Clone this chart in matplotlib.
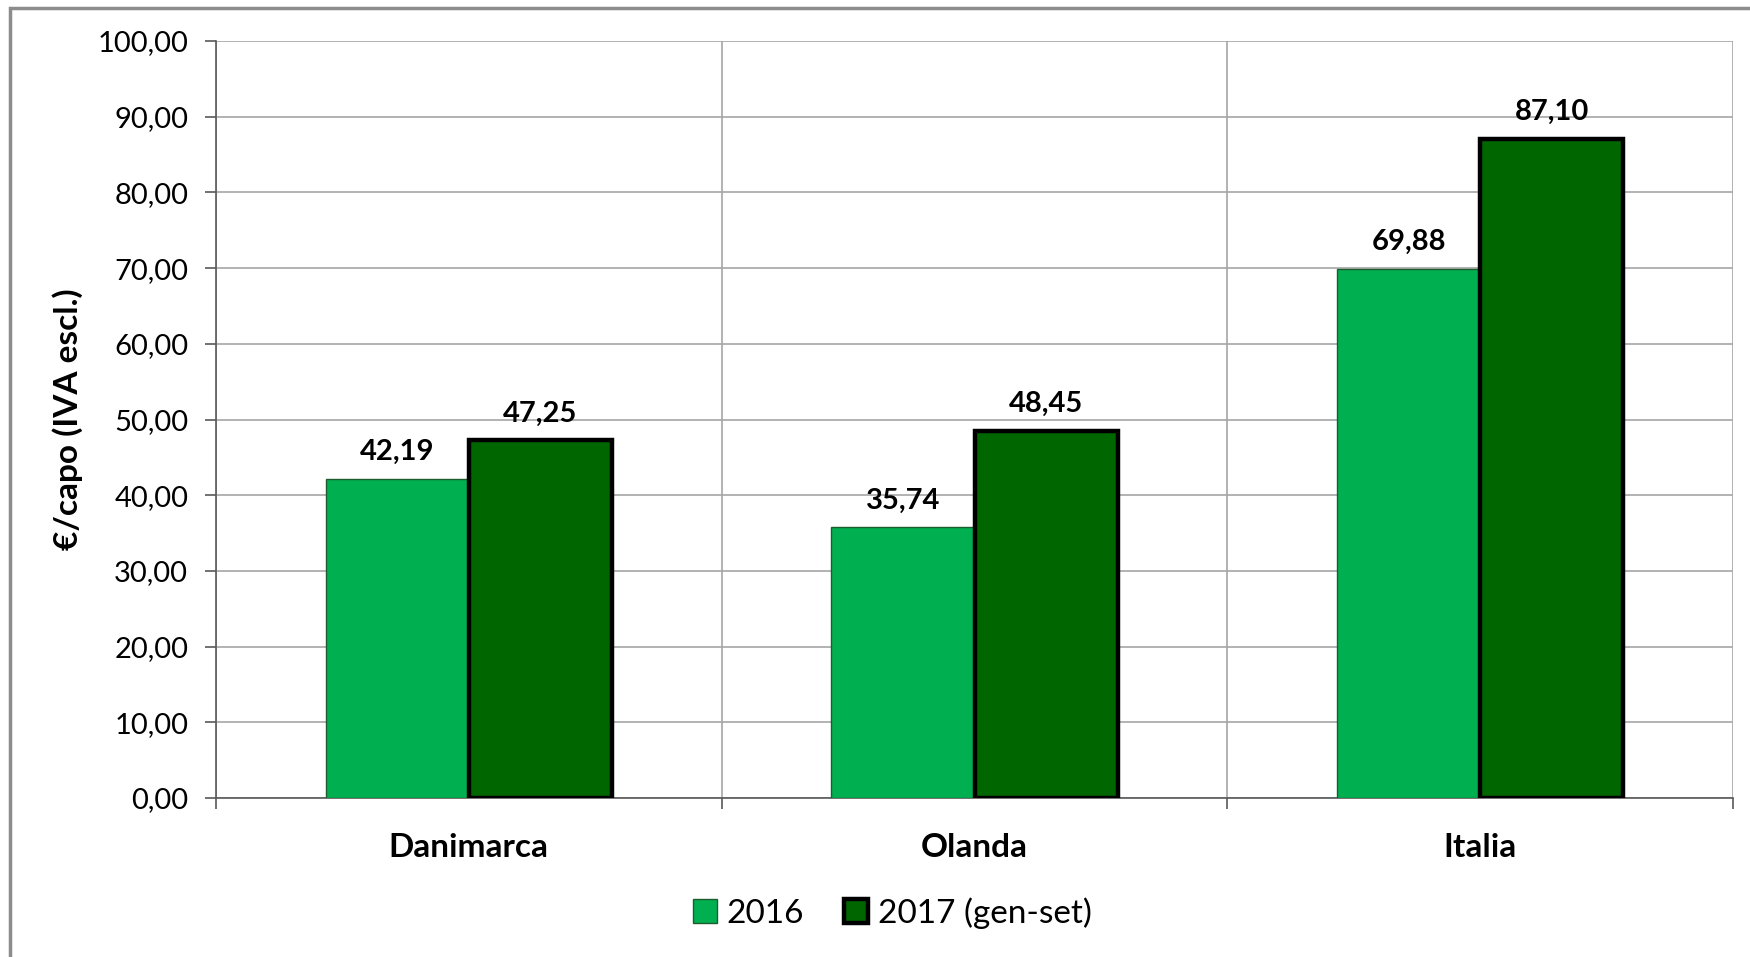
import numpy as np
import matplotlib.pyplot as plt
from matplotlib.patches import Rectangle

categories = ["Danimarca", "Olanda", "Italia"]
val_2016 = [42.19, 35.74, 69.88]
val_2017 = [47.25, 48.45, 87.10]
series_names = ["2016", "2017 (gen-set)"]
yticks = [0, 10, 20, 30, 40, 50, 60, 70, 80, 90, 100]

plt.rcParams['font.family'] = ['Lato', 'DejaVu Sans']

fig = plt.figure(figsize=(17.5, 9.57), dpi=100)
ax = fig.add_axes([216 / 1750, 1 - 798 / 957, (1733 - 216) / 1750, (798 - 41) / 957])

# outer chart border (Excel style)
fig.patches.append(Rectangle((10 / 1750, -0.1), 1.2, 1 - 8 / 957 + 0.1,
                             transform=fig.transFigure, fill=False,
                             edgecolor="#8c8c8c", lw=2.5))

x = np.arange(len(categories))
w = 0.283
b1 = ax.bar(x - w / 2, val_2016, w, color="#00B050", edgecolor="#1e5c2e", lw=1, zorder=3,
            label=series_names[0])
b2 = ax.bar(x + w / 2, val_2017, w, color="#006600", edgecolor="black", lw=3.2, zorder=3,
            label=series_names[1])

def fmt(v):
    return ("%.2f" % v).replace(".", ",")

for bars, vals in ((b1, val_2016), (b2, val_2017)):
    for r, v in zip(bars, vals):
        ax.annotate(fmt(v), (r.get_x() + r.get_width() / 2, v), xytext=(0, 10),
                    textcoords="offset points", ha="center", va="bottom",
                    fontsize=21, fontweight="bold")

ax.set_xlim(-0.5, 2.5)
ax.set_ylim(0, 100)
ax.set_yticks(yticks)
ax.set_yticklabels([fmt(v) for v in yticks], fontsize=21)
ax.yaxis.grid(True, color="#a6a6a6", lw=1.2, zorder=0)

# vertical separators between categories
ax.set_xticks([-0.5, 0.5, 1.5, 2.5])
ax.set_xticklabels([])
ax.set_xticks(x, minor=True)
ax.set_xticklabels(categories, minor=True, fontsize=24, fontweight="bold")
ax.tick_params(axis="x", which="minor", length=0, pad=25)
ax.tick_params(axis="x", which="major", length=8, color="#595959", width=1.2)
ax.tick_params(axis="y", length=8, color="#595959", width=1.2, pad=12)
ax.xaxis.grid(True, which="major", color="#a6a6a6", lw=1.2, zorder=0)

for s in ("top", "right"):
    ax.spines[s].set_visible(False)
ax.spines["left"].set_color("#595959")
ax.spines["bottom"].set_color("#595959")
ax.spines["left"].set_linewidth(1.2)
ax.spines["bottom"].set_linewidth(1.2)

ax.set_ylabel("€/capo (IVA escl.)", fontsize=24, fontweight="bold", labelpad=10)

fig.legend(handles=[b1, b2], labels=series_names, loc="center", ncol=2,
           bbox_to_anchor=(0.51, 1 - 913 / 957), frameon=False, fontsize=24,
           handlelength=0.7, handleheight=0.7, handletextpad=0.3, columnspacing=1.2)

fig.savefig("out.png", dpi=100)
